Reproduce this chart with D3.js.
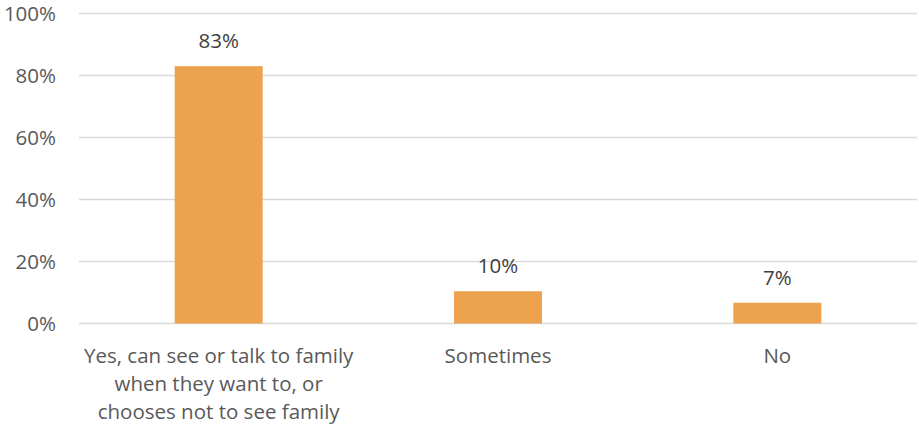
<!DOCTYPE html>
<html><head><meta charset="utf-8">
<script src="https://cdn.jsdelivr.net/npm/d3@7"></script>
<style>body{margin:0;background:#fff}svg{display:block}</style>
</head><body>
<svg id="c" width="919" height="428"></svg>
<script>
const categories = [
  ["Yes, can see or talk to family","when they want to, or","chooses not to see family"],
  ["Sometimes"],
  ["No"]
];
const values = [0.83, 0.104, 0.067];
const valueLabels = ["83%", "10%", "7%"];
const yTicks = [0, 0.2, 0.4, 0.6, 0.8, 1.0];

(function() {
const svg = d3.select("#c");
const font = "'Open Sans', sans-serif";
const fs = 20.5;
const textColor = "#595959";
const pLeft = 79, pRight = 917, pTop = 13.5, pBottom = 323.5;

const x = d3.scaleBand().domain(d3.range(categories.length)).range([pLeft, pRight]).paddingInner(0.685).paddingOuter(0.3425);
const y = d3.scaleLinear().domain([0, 1]).range([pBottom, pTop]);

// gridlines
svg.append("g").selectAll("line").data(yTicks).join("line")
  .attr("x1", pLeft).attr("x2", pRight)
  .attr("y1", d => y(d)).attr("y2", d => y(d))
  .attr("stroke", "#d9d9d9").attr("stroke-width", 1.3);

// y axis labels
const yAxis = d3.axisLeft(y).tickValues(yTicks).tickFormat(d3.format(".0%")).tickSize(0).tickPadding(0);
const ya = svg.append("g").attr("transform", `translate(56,0)`).call(yAxis);
ya.select(".domain").remove();
ya.selectAll("text").attr("font-family", font).attr("font-size", fs).attr("fill", textColor);

// bars
svg.append("g").selectAll("rect").data(values).join("rect")
  .attr("x", (d, i) => x(i)).attr("width", x.bandwidth())
  .attr("y", d => y(d)).attr("height", d => y(0) - y(d))
  .attr("fill", "#EDA24E");

// value labels
svg.append("g").selectAll("text").data(values).join("text")
  .attr("x", (d, i) => x(i) + x.bandwidth() / 2)
  .attr("y", d => y(d) - 18)
  .attr("text-anchor", "middle")
  .attr("font-family", font).attr("font-size", fs).attr("fill", "#404040")
  .text((d, i) => valueLabels[i]);

// category labels
const cg = svg.append("g").selectAll("text").data(categories).join("text")
  .attr("text-anchor", "middle")
  .attr("font-family", font).attr("font-size", fs).attr("fill", textColor)
  .attr("x", (d, i) => x(i) + x.bandwidth() / 2)
  .attr("y", 363);
cg.selectAll("tspan").data(d => d).join("tspan")
  .attr("x", function() { return d3.select(this.parentNode).attr("x"); })
  .attr("dy", (d, i) => i === 0 ? 0 : 28)
  .text(d => d);
})();
</script>
</body></html>
